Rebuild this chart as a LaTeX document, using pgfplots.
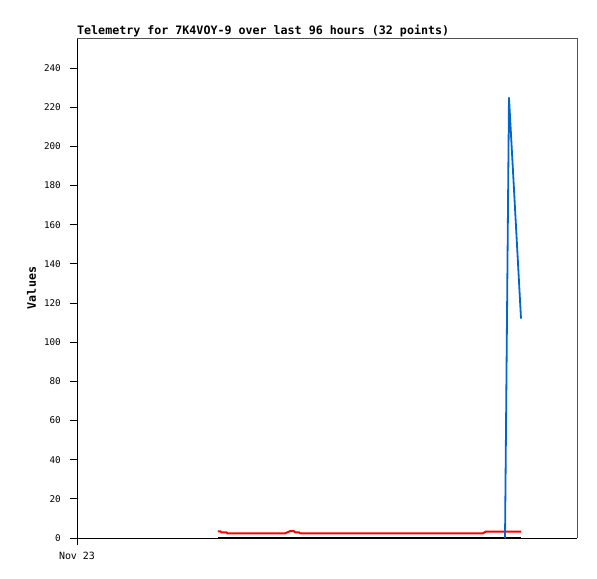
\documentclass[border=0pt]{standalone}
\usepackage{fontspec}
\setmainfont{DejaVu Sans Mono}
\usepackage{pgfplots}
\pgfplotsset{compat=1.18}
\definecolor{telblue}{RGB}{0,102,204}
\definecolor{telred}{RGB}{255,0,0}
\definecolor{framegray}{RGB}{80,80,80}
\begin{document}
\begin{tikzpicture}
\path (-77bp,-41bp) rectangle (520bp,538bp);
\begin{axis}[
    at={(0,0)}, anchor=south west,
    scale only axis, width=500bp, height=500bp,
    xmin=0, xmax=96, ymin=0, ymax=255.3,
    axis x line*=bottom, axis y line*=left,
    xtick={0}, xticklabels={Nov 23},
    ytick={0,20,...,240},
    tick align=outside, major tick length=7bp,
    tick style={black, line width=0.8pt},
    axis line style={black, line width=0.8pt, -},
    clip=false,
    every axis title shift=0pt,
    title={Telemetry for 7K4VOY-9 over last 96 hours (32 points)},
    title style={at={(rel axis cs:0,1)}, anchor=base west, inner sep=0pt, yshift=3bp,
        font=\fontsize{11.7}{12}\selectfont\bfseries},
    ylabel={Values},
    ylabel style={at={(axis description cs:-0.091,0.5)}, anchor=center,
        font=\fontsize{11.7}{12}\selectfont\bfseries},
    yticklabel style={font=\fontsize{9.3}{10}\selectfont, inner sep=0pt, xshift=-9bp,
        /pgf/number format/assume math mode=true},
    xticklabel style={font=\fontsize{10}{11}\selectfont, inner sep=0pt, yshift=-7bp},
    after end axis/.code={
        \draw[framegray, line width=0.8pt] (rel axis cs:0,1) -- (rel axis cs:1,1) -- (rel axis cs:1,0);
    },
]
% zero series
\addplot[black, line width=2bp] coordinates {(27.07,0) (85.25,0)};
% red series
\addplot[telred, line width=2bp] coordinates {
    (27.07,3.4) (27.5,3.4) (27.7,2.9) (28.7,2.9) (28.9,2.3) (39.9,2.3)
    (40.4,2.9) (40.9,3.5) (41.6,3.5) (41.9,2.9) (42.6,2.9) (42.9,2.3)
    (77.9,2.3) (78.5,3.3) (85.25,3.3)
};
% blue series
\addplot[telblue, line width=1.8bp] coordinates {
    (82.18,0) (82.94,225) (85.25,112)
};
\end{axis}
\end{tikzpicture}
\end{document}
